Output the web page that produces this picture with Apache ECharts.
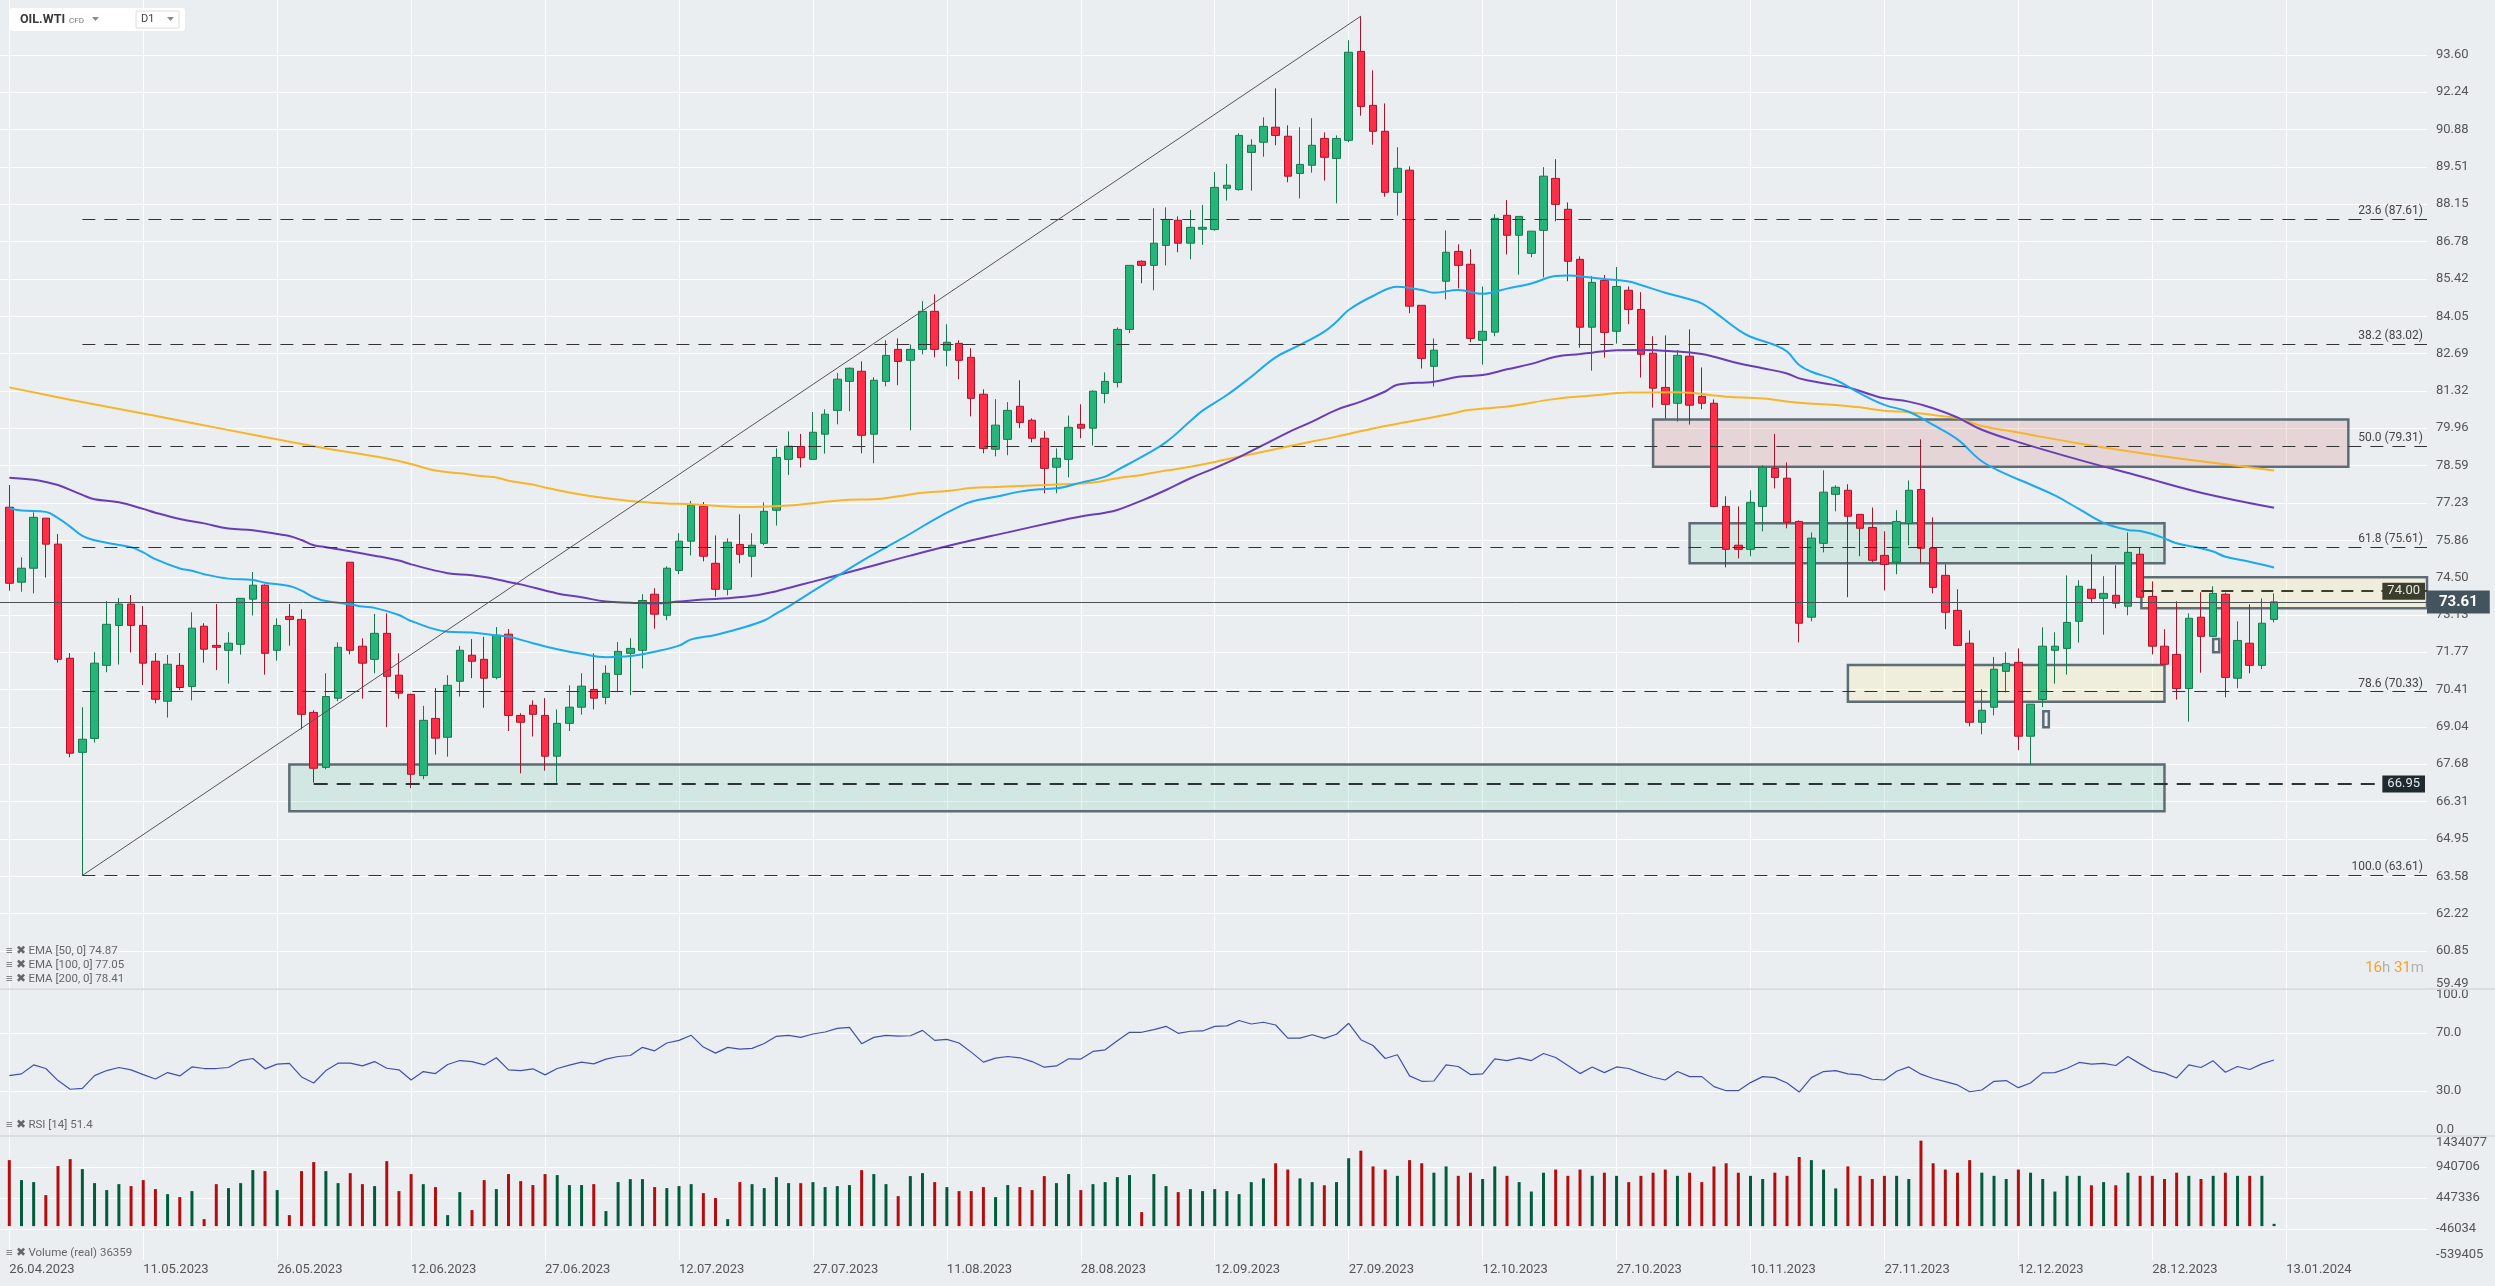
<!DOCTYPE html>
<html><head><meta charset="utf-8">
<script src="https://cdn.jsdelivr.net/npm/echarts@6/dist/echarts.min.js"></script>
<style>html,body{margin:0;padding:0;background:#ebeef1;overflow:hidden}#chart{width:2495px;height:1286px}</style>
</head><body><div id="chart"></div>
<script>
// ---------------- DATA ----------------
const dateLabels = ['26.04.2023','11.05.2023','26.05.2023','12.06.2023','27.06.2023','12.07.2023','27.07.2023','11.08.2023','28.08.2023','12.09.2023','27.09.2023','12.10.2023','27.10.2023','10.11.2023','27.11.2023','12.12.2023','28.12.2023','13.01.2024'];
const dateTickBars = [0,11,22,33,44,55,66,77,88,99,110,121,132,143,154,165,176,187];

const open = [77.07,74.33,74.84,76.67,75.72,71.55,68.11,68.62,71.29,72.75,73.53,72.75,71.44,69.98,71.29,70.52,72.72,72.02,71.84,72.06,
73.71,74.22,71.84,73.08,72.97,69.57,67.56,70.09,75.06,71.99,71.51,72.46,70.93,70.23,67.26,69.35,68.66,70.71,71.66,71.51,
70.85,72.43,69.46,69.83,69.46,67.97,69.17,69.76,70.41,70.12,70.96,71.73,71.84,73.89,73.12,74.76,75.83,77.11,75.02,74.07,
75.71,75.28,75.75,76.96,78.82,79.29,78.82,79.74,80.61,81.67,82.04,79.74,81.67,82.84,82.44,82.84,84.23,82.81,83.06,82.55,
81.20,79.19,79.55,80.76,80.25,79.59,78.53,78.82,80.10,79.96,81.23,81.63,83.57,86.06,85.91,86.64,87.56,86.72,87.23,87.22,
88.73,88.68,90.04,90.41,90.96,90.63,89.27,89.57,90.55,89.82,90.48,93.73,91.76,90.81,88.58,89.39,84.45,82.22,85.33,86.42,
85.95,83.17,83.47,87.74,87.01,86.35,87.19,89.09,87.96,86.13,83.65,85.36,83.50,85.00,84.30,82.70,81.45,80.87,82.59,81.12,
80.87,77.10,75.68,75.53,77.10,78.49,78.13,76.55,73.05,75.75,77.54,77.69,76.81,76.33,75.31,75.06,76.48,77.72,75.57,74.58,
73.30,72.10,69.21,69.76,71.07,71.40,68.70,70.04,71.84,71.91,72.90,74.07,73.74,73.85,73.45,75.35,73.81,71.99,71.69,70.44,
73.05,72.35,73.89,70.82,72.10,71.29,72.97];
const high = [77.88,75.24,76.88,76.67,76.09,71.74,69.76,71.77,73.64,73.75,73.86,73.46,71.74,71.67,71.74,73.23,72.83,73.53,72.50,73.74,
74.70,74.25,73.01,73.53,73.34,69.65,71.00,72.13,75.06,72.28,73.17,73.19,71.73,70.25,69.81,70.46,70.93,72.00,72.25,72.33,
72.69,72.62,69.54,70.01,70.09,69.68,70.56,71.00,71.73,71.29,72.14,72.28,73.89,74.11,74.91,76.12,77.30,77.26,76.04,75.93,
76.81,76.12,77.25,79.22,79.84,79.75,80.55,80.65,81.98,82.18,82.40,81.82,83.17,83.24,83.02,84.60,84.85,83.76,83.17,82.88,
81.38,81.02,80.91,81.71,80.32,79.85,79.22,80.42,80.83,81.34,82.00,83.64,85.91,86.09,88.00,88.03,87.70,87.93,88.12,89.32,
89.62,90.74,90.52,91.32,92.38,91.03,90.96,91.29,90.77,90.66,94.14,95.02,93.04,91.83,90.23,89.53,84.45,83.24,87.19,86.68,
86.50,85.14,87.78,88.30,87.70,87.16,89.50,89.79,88.21,86.24,85.52,85.56,85.85,85.14,84.93,83.32,83.35,82.81,83.57,82.18,
81.01,77.47,77.10,77.69,78.60,79.75,78.71,76.59,76.15,78.42,77.87,77.91,76.81,77.06,76.19,76.96,78.05,79.55,76.70,74.98,
74.07,72.57,70.42,71.60,71.77,71.91,69.87,72.68,72.50,74.58,74.40,75.35,74.55,74.95,76.15,75.60,74.36,72.61,73.63,73.19,
73.96,74.18,73.95,72.90,73.52,73.74,73.92];
const low = [74.02,73.98,73.92,74.50,71.39,67.93,63.61,68.47,71.04,71.32,71.76,70.57,69.90,69.38,70.39,70.01,71.39,71.12,70.62,71.68,
73.11,70.95,71.46,72.01,68.95,67.00,67.49,69.98,71.69,70.07,71.00,69.03,70.07,66.80,67.13,68.03,67.95,70.15,70.82,69.74,
70.78,68.89,67.34,68.69,67.44,67.00,68.89,69.49,69.68,69.87,70.31,70.20,71.18,72.63,72.94,74.62,75.31,75.09,73.80,73.85,
75.02,74.51,75.68,76.40,78.25,78.52,78.82,79.03,80.10,80.58,79.04,78.68,81.49,81.53,79.88,82.66,82.55,82.22,81.75,80.39,
79.04,78.93,78.97,79.96,79.44,77.58,77.58,78.16,79.59,79.33,80.87,81.45,83.43,85.26,85.00,85.91,86.39,86.13,86.66,87.18,
88.28,88.64,88.64,89.88,90.30,88.95,88.36,89.30,89.01,88.18,90.41,91.38,90.32,88.42,87.73,84.16,82.14,81.48,84.67,85.07,
83.10,82.28,83.32,86.31,85.57,86.21,85.47,87.52,85.33,82.90,82.06,82.54,83.05,83.76,81.81,80.71,80.31,80.20,80.09,80.65,
77.07,74.87,75.20,75.28,76.19,77.76,76.30,72.13,72.90,75.42,76.92,73.78,75.28,75.06,74.03,74.62,75.68,75.02,73.92,72.61,
71.99,69.06,68.77,69.46,70.30,68.19,67.67,69.76,70.62,70.95,72.12,73.56,72.41,73.38,73.12,73.78,71.69,71.33,70.04,69.23,
71.02,72.35,70.12,70.45,71.00,71.15,72.86];
const close = [74.29,74.84,76.70,75.72,71.51,68.08,68.59,71.37,72.79,73.53,72.75,71.37,70.05,71.33,70.48,72.65,71.88,71.95,72.10,73.74,
74.22,71.73,72.75,72.97,69.50,67.53,70.15,71.95,71.84,71.37,72.46,70.89,70.27,67.31,69.28,68.63,70.56,71.84,71.44,70.82,
72.39,69.46,69.21,69.50,67.97,69.17,69.76,70.53,70.09,71.00,71.80,71.91,73.66,73.16,74.84,75.83,77.15,75.28,74.07,75.79,
75.35,75.68,76.92,78.89,79.30,78.88,79.81,80.47,81.75,82.15,79.70,81.71,82.62,82.40,82.84,84.23,82.84,83.10,82.44,81.05,
79.22,80.07,80.61,80.17,79.59,78.49,78.86,79.99,79.96,81.31,81.67,83.57,85.91,85.91,86.72,87.59,86.72,87.30,87.30,88.76,
88.84,90.66,90.30,90.99,90.66,89.17,89.60,90.30,89.86,90.55,93.70,91.72,90.81,88.58,89.46,84.42,82.51,82.81,86.39,85.91,
83.24,83.50,87.63,87.01,87.70,87.16,89.17,88.14,86.06,83.65,85.29,83.46,85.14,84.30,82.66,81.42,80.83,82.62,80.80,80.87,
77.10,75.53,75.53,77.25,78.53,78.16,76.52,72.83,75.94,77.62,77.80,76.74,76.30,75.13,74.98,76.55,77.69,75.57,74.14,73.23,
72.02,69.21,69.65,71.15,71.36,68.70,69.87,71.99,71.99,72.86,74.18,73.74,73.92,73.56,75.42,73.78,71.99,71.33,70.44,73.01,
72.35,73.92,70.85,72.20,71.29,72.83,73.61];

// volume in thousands of units
const volumeK = [1050,732,700,493,955,1066,907,684,573,668,637,732,589,509,462,557,111,668,605,684,
891,875,573,175,875,1019,875,684,843,668,637,1034,557,828,668,621,175,541,255,732,
589,828,716,653,828,812,653,653,668,239,700,748,748,621,605,637,668,525,446,111,
700,668,605,780,684,684,700,621,637,653,891,828,668,477,796,843,700,621,557,557,
621,462,653,621,573,796,684,828,573,668,700,780,812,223,828,637,541,589,557,589,
557,509,700,760,1000,900,760,700,650,700,1080,1200,950,900,800,1050,1000,850,950,800,
850,750,950,800,700,550,850,900,800,900,800,850,800,700,800,850,900,800,850,700,
950,1000,850,800,750,850,800,1100,1050,900,600,950,800,750,800,800,750,1360,1000,900,
850,1050,850,800,750,900,850,750,550,800,800,650,700,650,850,800,800,750,850,800,
750,800,850,800,800,800,36];

const rsi14 = [40.6,41.8,48.0,45.5,37.2,31.2,31.8,40.6,44.1,46.2,44.6,41.3,38.3,42.7,40.4,46.6,45.5,45.5,46.2,51.0,
52.4,45.3,48.5,49.0,39.7,35.5,44.1,49.2,49.2,47.3,50.3,45.7,44.6,37.6,43.4,42.0,48.3,51.0,50.3,48.0,
52.9,44.6,44.1,45.3,41.1,45.5,47.8,49.9,48.7,52.0,53.8,54.5,60.1,57.7,63.1,64.9,68.4,60.3,56.1,60.1,
58.9,59.4,62.8,67.7,68.4,67.0,69.3,70.7,73.2,73.9,62.6,67.0,68.4,67.9,68.1,71.8,64.9,65.6,63.1,56.8,
49.9,52.7,53.8,52.9,50.3,46.4,47.3,52.2,52.0,57.3,58.4,64.7,70.5,70.5,72.3,74.6,69.8,71.2,71.4,74.6,
74.9,78.6,76.2,77.4,75.5,66.5,66.5,68.8,66.3,69.1,76.7,65.4,61.4,52.4,55.0,40.4,36.7,36.9,48.0,46.9,
41.3,41.8,52.2,51.0,52.9,51.0,55.9,53.1,47.6,42.0,46.6,42.7,46.6,45.5,42.3,39.5,37.6,43.4,39.9,39.9,
33.0,30.2,30.2,35.8,39.9,39.2,35.5,29.3,39.2,43.4,44.1,41.8,41.1,38.1,37.6,43.6,46.6,41.6,38.6,36.5,
34.2,29.5,30.7,36.7,37.2,32.3,35.5,42.5,42.7,45.7,49.7,48.5,49.0,47.6,53.8,48.7,43.9,42.3,39.0,48.0,
46.2,50.8,42.9,46.9,44.8,48.7,51.4];

// EMA readings as [bar, value]
const ema50 = [[0,77.03],[1,76.95],[3,76.90],[4,76.67],[5,76.36],[6,76.02],[7,75.86],[9,75.69],[10,75.61],[11,75.42],[12,75.17],[14,74.83],[15,74.75],[16,74.62],[18,74.46],[20,74.41],[21,74.31],[23,74.19],[24,74.02],[25,73.78],[26,73.64],[28,73.52],[29,73.44],[30,73.39],[32,73.13],[33,72.91],[36,72.52],[38,72.49],[40,72.39],[41,72.34],[43,72.10],[45,71.88],[47,71.71],[49,71.59],[51,71.63],[53,71.79],[55,72.01],[56,72.24],[58,72.40],[60,72.64],[62,72.93],[63,73.19],[64,73.44],[66,74.0],[68,74.55],[70,75.1],[72,75.6],[74,76.1],[76,76.63],[78,77.09],[79,77.27],[81,77.45],[83,77.64],[85,77.74],[86,77.76],[88,77.97],[90,78.19],[91,78.43],[93,78.91],[95,79.45],[97,80.22],[98,80.6],[100,81.17],[102,81.84],[104,82.55],[106,83.00],[108,83.49],[109,83.85],[110,84.28],[112,84.79],[114,85.13],[116,85.01],[117,84.91],[119,85.01],[121,84.87],[123,85.06],[125,85.25],[127,85.52],[128,85.54],[130,85.46],[131,85.41],[133,85.32],[134,85.19],[136,84.91],[138,84.67],[139,84.52],[140,84.22],[142,83.55],[143,83.30],[145,83.00],[146,82.76],[147,82.27],[148,82.02],[150,81.72],[152,81.23],[154,80.81],[156,80.56],[158,80.08],[160,79.55],[162,78.75],[164,78.28],[166,77.9],[168,77.5],[170,77.0],[172,76.5],[174,76.24],[175,76.20],[176,76.09],[177,75.93],[178,75.75],[180,75.57],[181,75.45],[182,75.26],[184,75.08],[186,74.87]];
const ema100 = [[0,78.15],[2,78.07],[3,77.99],[4,77.88],[6,77.52],[7,77.36],[9,77.25],[11,77.01],[12,76.87],[14,76.64],[16,76.48],[18,76.29],[20,76.23],[22,76.09],[23,76.02],[24,75.87],[25,75.68],[26,75.61],[28,75.46],[30,75.30],[32,75.12],[33,74.98],[36,74.66],[38,74.58],[40,74.44],[41,74.34],[42,74.25],[45,73.92],[47,73.78],[49,73.62],[51,73.58],[53,73.55],[55,73.62],[57,73.70],[59,73.74],[61,73.83],[63,74.00],[64,74.12],[66,74.35],[70,74.82],[74,75.3],[78,75.75],[82,76.15],[86,76.55],[88,76.73],[90,76.87],[91,76.97],[93,77.31],[95,77.70],[97,78.13],[99,78.5],[101,78.9],[103,79.35],[105,79.8],[107,80.2],[109,80.63],[111,80.93],[113,81.30],[114,81.55],[117,81.66],[119,81.84],[121,81.90],[123,82.11],[125,82.31],[127,82.57],[129,82.67],[130,82.72],[132,82.81],[134,82.82],[137,82.76],[139,82.67],[140,82.57],[142,82.33],[144,82.15],[146,81.96],[147,81.78],[149,81.60],[151,81.45],[153,81.17],[154,81.05],[156,80.93],[158,80.69],[160,80.35],[162,79.9],[165,79.45],[170,78.8],[175,78.2],[180,77.6],[186,77.05]];
const ema200 = [[0,81.45],[5,81.0],[10,80.58],[15,80.15],[20,79.72],[25,79.3],[31,78.85],[33,78.65],[35,78.41],[37,78.31],[39,78.20],[40,78.16],[41,78.04],[43,77.90],[44,77.79],[46,77.61],[48,77.46],[50,77.35],[52,77.26],[54,77.21],[56,77.18],[58,77.12],[60,77.08],[62,77.09],[64,77.13],[69,77.34],[71,77.36],[73,77.47],[75,77.60],[77,77.66],[79,77.77],[81,77.81],[83,77.85],[85,77.88],[87,77.92],[89,77.97],[91,78.13],[93,78.25],[95,78.41],[97,78.55],[100,78.82],[103,79.1],[106,79.38],[109,79.65],[112,79.95],[115,80.2],[118,80.45],[120,80.63],[123,80.75],[127,81.03],[130,81.15],[133,81.26],[137,81.27],[141,81.11],[144,81.04],[147,80.89],[150,80.81],[152,80.72],[154,80.60],[156,80.54],[158,80.44],[160,80.32],[162,80.04],[165,79.8],[170,79.4],[175,79.05],[180,78.75],[186,78.41]];

const priceTicks = [93.60,92.24,90.88,89.51,88.15,86.78,85.42,84.05,82.69,81.32,79.96,78.59,77.23,75.86,74.50,73.13,71.77,70.41,69.04,67.68,66.31,64.95,63.58,62.22,60.85,59.49];
const rsiTickText = ['0.0','30.0','70.0','100.0'];
const volTickText = ['-539405','-46034','447336','940706','1434077'];

const fibPct = ['23.6','38.2','50.0','61.8','78.6','100.0'];
const fibPrice = [87.61,83.02,79.31,75.61,70.33,63.61];
const fibStartBar = 6;
const trendFrom = [6, 63.61];
const trendTo = [111, 95.02];
const lastPrice = 73.61;
const level74 = 74.00, level74Bar = 175.1;
const level6695 = 66.95, level6695Bar = 25;

// boxes: [x1, y1, x2, y2, kind]
const boxes = [
  [135.0, 80.28, 192.1, 78.55, 'pink'],
  [138.0, 76.48, 177.0, 75.02, 'teal'],
  [151.0, 71.30, 177.0, 69.96, 'yellow'],
  [175.1, 74.51, 'end', 73.38, 'yellow'],
  [23.0, 67.67, 177.0, 65.96, 'teal'],
  [167.05, 69.61, 167.5, 69.03, 'hollow'],
  [181.0, 72.25, 181.5, 71.77, 'hollow']
];

const legendTexts = ['EMA [50, 0] 74.87','EMA [100, 0] 77.05','EMA [200, 0] 78.41'];
const rsiLegend = 'RSI [14] 51.4';
const volLegend = 'Volume (real) 36359';

// ---------------- LAYOUT ----------------
const X_MIN = -0.764, X_MAX = 198.56;
const GRID_W = 2427;
const FONT = 'Roboto, "Open Sans", sans-serif';
const boxFill = {
  pink: 'rgba(210,90,90,0.17)', teal: 'rgba(130,210,180,0.24)',
  yellow: 'rgba(250,240,170,0.28)', hollow: 'rgba(240,242,244,0.9)'
};
const boxBorder = '#5d6c75';

const chart = echarts.init(document.getElementById('chart'), null, {renderer: 'canvas'});

const grids = [
  {left: 0, top: 0, width: GRID_W, height: 989},
  {left: 0, top: 989.5, width: GRID_W, height: 145},
  {left: 0, top: 1136, width: GRID_W, height: 124}
];

function xAxisFor(i) {
  return {
    type: 'value', gridIndex: i, min: X_MIN, max: X_MAX,
    axisLine: {show: false},
    axisTick: {show: false, customValues: dateTickBars},
    splitLine: {show: true, lineStyle: {color: '#ffffff', width: 1}},
    axisLabel: {
      show: i === 2, customValues: dateTickBars,
      formatter: v => dateLabels[dateTickBars.indexOf(Math.round(v))] || '',
      align: 'left', color: '#555', fontSize: 13, margin: 3, fontFamily: FONT
    }
  };
}

function nearestText(positions, texts) {
  return v => {
    let bi = 0, bd = Infinity;
    positions.forEach((p, k) => { const d = Math.abs(p - v); if (d < bd) { bd = d; bi = k; } });
    return texts[bi];
  };
}

const priceLabelPos = priceTicks.map(v => v === 59.49 ? 59.66 : v);
const rsiLabelPos = [3.2, 30, 70, 96.5];
const volLabelPos = [-460000, -46034, 447336, 940706, 1324000];

const candleData = open.map((o, i) => [i, o, close[i], low[i], high[i]]);
const UP = '#27b47b', DOWN = '#fd2f48';

const volData = volumeK.map((v, i) => ({
  value: [i, v * 1000],
  itemStyle: {color: close[i] >= open[i] ? '#005c3b' : '#b50d0d'}
}));

const markAreaData = boxes.map(b => {
  const x2 = b[2] === 'end' ? X_MAX : b[2];
  return [
    {coord: [b[0], b[1]], itemStyle: {color: boxFill[b[4]], borderColor: boxBorder, borderWidth: 2.5, opacity: 1}},
    {coord: [x2, b[3]]}
  ];
});

const fibLines = fibPrice.map((p, k) => [
  {coord: [fibStartBar, p], label: {show: true, formatter: fibPct[k] + ' (' + p.toFixed(2) + ')'}},
  {coord: [X_MAX, p]}
]);

const option = {
  animation: false,
  backgroundColor: '#ebeef1',
  textStyle: {fontFamily: FONT},
  grid: grids,
  xAxis: [xAxisFor(0), xAxisFor(1), xAxisFor(2)],
  yAxis: [
    {
      type: 'value', gridIndex: 0, position: 'right', min: 59.46, max: 95.61,
      axisLine: {show: false},
      axisTick: {show: false, customValues: priceTicks},
      splitLine: {show: true, lineStyle: {color: '#ffffff', width: 1}},
      axisLabel: {customValues: priceLabelPos, formatter: nearestText(priceLabelPos, priceTicks.map(v => v.toFixed(2))),
        color: '#555', fontSize: 13, margin: 9, fontFamily: FONT}
    },
    {
      type: 'value', gridIndex: 1, position: 'right', min: 0, max: 100,
      axisLine: {show: false},
      axisTick: {show: false, customValues: [30, 70]},
      splitLine: {show: true, lineStyle: {color: '#ffffff', width: 1}},
      axisLabel: {customValues: rsiLabelPos, formatter: nearestText(rsiLabelPos, rsiTickText),
        color: '#555', fontSize: 13, margin: 9, fontFamily: FONT}
    },
    {
      type: 'value', gridIndex: 2, position: 'right', min: -539405, max: 1434077,
      axisLine: {show: false},
      axisTick: {show: false, customValues: [-46034, 447336, 940706]},
      splitLine: {show: true, lineStyle: {color: '#ffffff', width: 1}},
      axisLabel: {customValues: volLabelPos, formatter: nearestText(volLabelPos, volTickText),
        color: '#555', fontSize: 13, margin: 9, fontFamily: FONT}
    }
  ],
  series: [
    {
      type: 'candlestick', xAxisIndex: 0, yAxisIndex: 0, z: 2,
      data: candleData, encode: {x: 0, y: [1, 2, 3, 4]},
      barWidth: 8,
      itemStyle: {color: UP, color0: DOWN, borderColor: '#16794b', borderColor0: '#a8142a', borderWidth: 1}
    },
    {
      type: 'line', xAxisIndex: 0, yAxisIndex: 0, data: [], z: 3, silent: true,
      markArea: {silent: true, data: markAreaData}
    },
    {type: 'line', name: 'EMA200', xAxisIndex: 0, yAxisIndex: 0, data: ema200, symbol: 'none', smooth: 0.4, z: 4,
      lineStyle: {color: '#f7b529', width: 2}},
    {type: 'line', name: 'EMA100', xAxisIndex: 0, yAxisIndex: 0, data: ema100, symbol: 'none', smooth: 0.4, z: 4,
      lineStyle: {color: '#6a3db8', width: 2}},
    {type: 'line', name: 'EMA50', xAxisIndex: 0, yAxisIndex: 0, data: ema50, symbol: 'none', smooth: 0.4, z: 4,
      lineStyle: {color: '#1ba9ef', width: 2}},
    {
      type: 'line', xAxisIndex: 0, yAxisIndex: 0, data: [], z: 5, silent: true,
      markLine: {
        silent: true, symbol: ['none', 'none'], animation: false,
        lineStyle: {type: [13, 9], color: '#333', width: 1},
        label: {show: false, position: 'insideEndTop', color: '#444', fontSize: 12, distance: [4, 2], fontFamily: FONT},
        data: fibLines.concat([
          [{coord: trendFrom, lineStyle: {type: 'solid', color: '#555', width: 1}, label: {show: false}}, {coord: trendTo}],
          [{coord: [level74Bar, level74], lineStyle: {type: [12, 8], color: '#3c3d33', width: 2},
            label: {show: true, position: 'insideEnd', formatter: level74.toFixed(2), color: '#e9e9dc',
              backgroundColor: '#3b3e2e', padding: [2, 5, 2, 5], fontSize: 13, distance: 2}},
           {coord: [X_MAX, level74]}],
          [{coord: [level6695Bar, level6695], lineStyle: {type: [14, 9], color: '#2b3338', width: 2},
            label: {show: true, position: 'insideEnd', formatter: level6695.toFixed(2), color: '#e6eaec',
              backgroundColor: '#1f2a30', padding: [2, 5, 2, 5], fontSize: 13, distance: 2}},
           {coord: [X_MAX, level6695]}],
          [{coord: [X_MIN, lastPrice], lineStyle: {type: 'solid', color: '#4b5257', width: 1},
            label: {show: true, position: 'end', formatter: lastPrice.toFixed(2), color: '#ffffff', fontWeight: 'bold',
              backgroundColor: '#44545e', padding: [4, 12, 4, 12], fontSize: 15, distance: 0}},
           {coord: [X_MAX, lastPrice]}]
        ])
      }
    },
    {
      type: 'line', xAxisIndex: 1, yAxisIndex: 1, data: rsi14.map((v, i) => [i, v]), symbol: 'none',
      lineStyle: {color: '#4150aa', width: 1.2}
    },
    {
      type: 'bar', xAxisIndex: 2, yAxisIndex: 2, data: volData, barWidth: 3
    }
  ],
  graphic: [
    {type: 'line', shape: {x1: 0, y1: 989, x2: 2495, y2: 989}, style: {stroke: '#d3d7db', lineWidth: 1.5}, z: 10},
    {type: 'line', shape: {x1: 0, y1: 1136, x2: 2495, y2: 1136}, style: {stroke: '#d3d7db', lineWidth: 1.5}, z: 10},
    {type: 'rect', shape: {x: 10, y: 8, width: 175, height: 23, r: 3}, style: {fill: '#ffffff'}, z: 10},
    {type: 'text', x: 20, y: 19.5, style: {text: 'OIL.WTI', font: 'bold 12.5px ' + FONT, fill: '#3a3a3a', verticalAlign: 'middle'}, z: 11},
    {type: 'text', x: 69, y: 20.5, style: {text: 'CFD', font: '8px ' + FONT, fill: '#777', verticalAlign: 'middle'}, z: 11},
    {type: 'polygon', shape: {points: [[92, 17], [99, 17], [95.5, 21]]}, style: {fill: '#8a8a8a'}, z: 11},
    {type: 'rect', shape: {x: 136, y: 11, width: 43, height: 17, r: 1}, style: {fill: '#fff', stroke: '#dcdcdc', lineWidth: 1}, z: 11},
    {type: 'text', x: 141, y: 19.5, style: {text: 'D1', font: '11px ' + FONT, fill: '#444', verticalAlign: 'middle'}, z: 12},
    {type: 'polygon', shape: {points: [[167, 17], [174, 17], [170.5, 21]]}, style: {fill: '#8a8a8a'}, z: 12},
    ...legendTexts.map((t, k) => ({
      type: 'text', x: 6, y: 951 + k * 14,
      style: {text: '≡ ✖ ' + t, font: '11.5px ' + FONT, fill: '#666', verticalAlign: 'middle'}, z: 11
    })),
    {type: 'text', x: 6, y: 1125, style: {text: '≡ ✖ ' + rsiLegend, font: '11.5px ' + FONT, fill: '#666', verticalAlign: 'middle'}, z: 11},
    {type: 'text', x: 6, y: 1253, style: {text: '≡ ✖ ' + volLegend, font: '11.5px ' + FONT, fill: '#666', verticalAlign: 'middle'}, z: 11},
    {type: 'text', x: 2424, y: 968, style: {
      text: '{o|16}{g|h }{o|31}{g|m}', align: 'right', verticalAlign: 'middle',
      rich: {o: {fill: '#f5a12b', font: '15px ' + FONT}, g: {fill: '#b0b0b0', font: '15px ' + FONT}}
    }, z: 11}
  ]
};
chart.setOption(option);
</script>
</body></html>
